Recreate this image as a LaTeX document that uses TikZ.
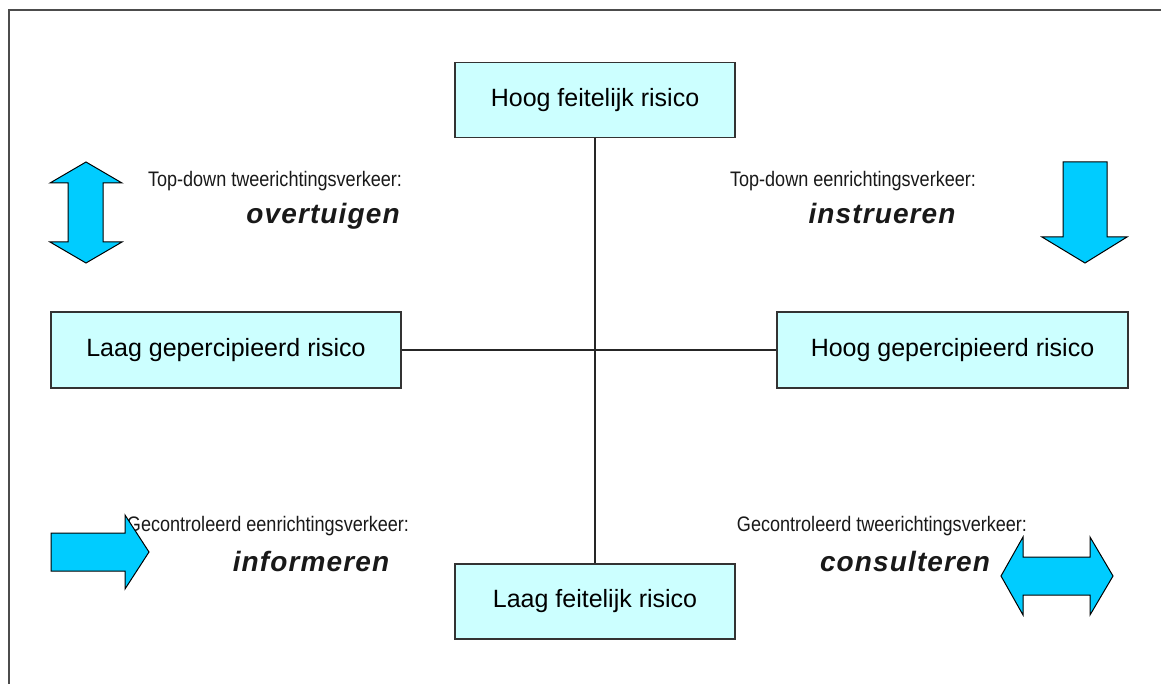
\documentclass[tikz,border=0pt]{standalone}
\usepackage{fontspec}
\setmainfont{Liberation Sans}
\usepackage{xcolor}
\usepackage{graphicx}
\usepackage{tikz}
\usetikzlibrary{positioning}
\definecolor{boxcyan}{HTML}{CCFFFF}
\definecolor{arrowcyan}{HTML}{00CCFF}
\newcommand{\kw}[1]{{\fontsize{14}{16}\selectfont\bfseries\itshape\addfontfeature{LetterSpace=4}#1}}
\newcommand{\lbl}[1]{\scalebox{0.86}[1]{#1}}

\begin{document}
\begin{tikzpicture}[x=0.5pt, y=-0.5pt,
  riskbox/.style={draw=black!80, line width=0.6pt, fill=boxcyan, inner sep=0pt, minimum height=37.5pt, font=\fontsize{12.5}{14}\selectfont},
  quadlabel/.style={anchor=base, inner sep=0pt, text=black!90, font=\fontsize{10.5}{12}\selectfont},
  blockarrow/.style={draw=black, line width=0.5pt, fill=arrowcyan, line join=miter}]
  \useasboundingbox (0,0) rectangle (1161,684);
  \draw[line width=1pt, black!70] (9,684) -- (9,10) -- (1161,10);

  % risk boxes on the two axes
  \node[riskbox, minimum width=140pt] (HF) at (595,100) {Hoog feitelijk risico};
  \node[riskbox, minimum width=140pt] (LF) at (595,601.5) {Laag feitelijk risico};
  \node[riskbox, minimum width=175pt, minimum height=38pt] (LP) at (226,350) {Laag gepercipieerd risico};
  \node[riskbox, minimum width=175.5pt, minimum height=38pt] (HP) at (952.5,350) {Hoog gepercipieerd risico};

  \draw[black!85, line width=0.7pt] (HF.south) -- (LF.north);
  \draw[black!85, line width=0.7pt] (LP.east) -- (HP.west);

  % quadrant labels
  \node[quadlabel] (tdtwee) at (275,187) {\lbl{Top-down tweerichtingsverkeer:}};
  \node[quadlabel] (overt) at (323,224) {\kw{overtuigen}};
  \node[quadlabel] (tdeen) at (853,187) {\lbl{Top-down eenrichtingsverkeer:}};
  \node[quadlabel] (instr) at (882,224) {\kw{instrueren}};
  \node[quadlabel] (geen) at (268,531) {\lbl{Gecontroleerd eenrichtingsverkeer:}};
  \node[quadlabel] (inform) at (311,571) {\kw{informeren}};
  \node[quadlabel] (gtwee) at (882,531) {\lbl{Gecontroleerd tweerichtingsverkeer:}};
  \node[quadlabel] (consult) at (905,571) {\kw{consulteren}};

  % block arrows
  \draw[blockarrow] (86,162) -- (122,183) -- (103,183) -- (103,242) -- (122,242) -- (86,263)
    -- (50,242) -- (68,242) -- (68,183) -- (50,183) -- cycle;
  \draw[blockarrow] (1063,162) -- (1107,162) -- (1107,237) -- (1127,237) -- (1085,263)
    -- (1042,237) -- (1063,237) -- cycle;
  \draw[blockarrow] (51,533) -- (125,533) -- (125,515) -- (149,552) -- (125,589)
    -- (125,571) -- (51,571) -- cycle;
  \draw[blockarrow] (1001,576) -- (1023,537) -- (1023,557) -- (1090,557) -- (1090,537) -- (1113,576)
    -- (1090,615) -- (1090,595) -- (1023,595) -- (1023,615) -- cycle;
\end{tikzpicture}
\end{document}
